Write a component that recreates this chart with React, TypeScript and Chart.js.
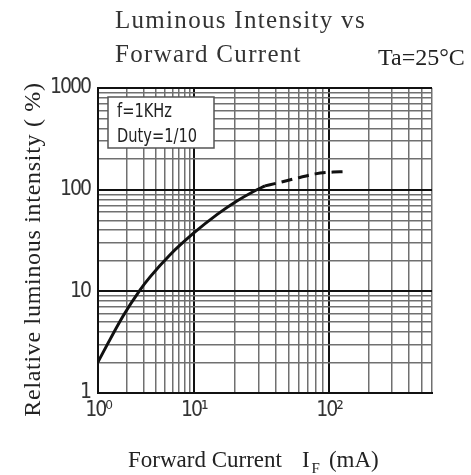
import React, { useEffect, useRef } from 'react';
import { Chart, registerables, LogarithmicScale } from 'chart.js';

// ---- data ----
const solidCurrent = [1, 1.82, 2.74, 3.48, 5.62, 10, 14.8, 20.8, 27.4, 33.6];
const solidIntensity = [2.02, 5.7, 10.3, 13.8, 22.8, 37.5, 56.8, 77.3, 95.5, 109];
const dashedCurrent = [33.6, 41, 58, 79, 107, 128];
const dashedIntensity = [109, 116, 130, 143, 149, 150];

const xMin = 1;
const xMax = 600;
const yMin = 1;
const yMax = 1000;
const xTickValues = [1, 10, 100];
const xTickLabels = ['10⁰', '10¹', '10²'];
const yTickValues = [1, 10, 100, 1000];
const yTickLabels = ['1', '10', '100', '1000'];
const gridDecades = [1, 10, 100];
const gridMultipliers = [1, 2, 3, 4, 5, 6, 7, 8, 9];

const titleLines = ['Luminous Intensity vs', 'Forward Current'];
const conditionText = 'Ta=25°C';
const noteLines = ['f=1KHz', 'Duty=1/10'];
const yTitle = 'Relative luminous intensity ( %)';
const xTitleMain = 'Forward Current';
const xTitleSymbol = 'I';
const xTitleSub = 'F';
const xTitleUnit = '(mA)';

// the source sheet's current axis is not evenly spaced per decade:
// decade boundaries and the share of the axis width each one reaches
const xDecadeBounds = [1, 10, 100, 600];
const xDecadeShare = [0, 0.287, 0.692, 1];

const SERIF = "'Liberation Serif', 'Times New Roman', serif";
const TICK_FONT = { family: "'DejaVu Sans Condensed', 'DejaVu Sans', sans-serif", size: 21 };

class SegmentedLogScale extends (LogarithmicScale as any) {
  static id = 'segmentedLog';
  static defaults = (LogarithmicScale as any).defaults;

  getPixelForValue(value: number) {
    if (value === undefined || value === null || isNaN(value)) return NaN;
    const lv = Math.log10(Math.max(value, xDecadeBounds[0]));
    let i = 0;
    while (i < xDecadeBounds.length - 2 && lv > Math.log10(xDecadeBounds[i + 1])) i++;
    const a = Math.log10(xDecadeBounds[i]);
    const b = Math.log10(xDecadeBounds[i + 1]);
    const f = xDecadeShare[i] + ((lv - a) / (b - a)) * (xDecadeShare[i + 1] - xDecadeShare[i]);
    return (this as any).getPixelForDecimal(f);
  }

  getValueForPixel(pixel: number) {
    const f = (this as any).getDecimalForPixel(pixel);
    let i = 0;
    while (i < xDecadeShare.length - 2 && f > xDecadeShare[i + 1]) i++;
    const a = Math.log10(xDecadeBounds[i]);
    const b = Math.log10(xDecadeBounds[i + 1]);
    const t = (f - xDecadeShare[i]) / (xDecadeShare[i + 1] - xDecadeShare[i]);
    return Math.pow(10, a + t * (b - a));
  }
}

Chart.register(...registerables, SegmentedLogScale as any);

const gridValuesFor = (max: number) => {
  const vals = gridDecades.flatMap((d) => gridMultipliers.map((m) => m * d)).filter((v) => v < max);
  vals.push(max);
  return vals;
};

const isDecade = (v: number) => Math.abs(Math.log10(v) - Math.round(Math.log10(v))) < 1e-9;

const labelFor = (values: number[], labels: string[]) => (value: any) => {
  const i = values.findIndex((v) => Math.abs(v - Number(value)) < 1e-9);
  return i >= 0 ? labels[i] : '';
};

const annotations = {
  id: 'annotations',
  beforeDraw(chart: any) {
    // tighter digits for the narrow tick lettering of the sheet
    (chart.ctx as any).letterSpacing = '-2px';
  },
  afterDraw(chart: any) {
    const ctx = chart.ctx as CanvasRenderingContext2D;
    const { left, top, bottom } = chart.chartArea;
    ctx.save();
    ctx.textAlign = 'left';
    ctx.textBaseline = 'alphabetic';

    // title
    ctx.fillStyle = '#333';
    ctx.font = `25px ${SERIF}`;
    (ctx as any).letterSpacing = '1.3px';
    ctx.fillText(titleLines[0], 115, 28);
    ctx.fillText(titleLines[1], 115, 62);
    (ctx as any).letterSpacing = '0px';

    // condition
    ctx.fillStyle = '#222';
    ctx.font = `24px ${SERIF}`;
    ctx.fillText(conditionText, 378, 65);

    // y axis title
    ctx.save();
    ctx.fillStyle = '#222';
    ctx.font = `24px ${SERIF}`;
    (ctx as any).letterSpacing = '0.7px';
    ctx.translate(40, (top + bottom) / 2 + 9);
    ctx.rotate(-Math.PI / 2);
    ctx.textAlign = 'center';
    ctx.fillText(yTitle, 0, 0);
    ctx.restore();
    (ctx as any).letterSpacing = '0px';

    // note box
    const bx = left + 10;
    const by = top + 9;
    ctx.fillStyle = '#fff';
    ctx.fillRect(bx, by, 106, 51);
    ctx.strokeStyle = '#555';
    ctx.lineWidth = 1.5;
    ctx.strokeRect(bx, by, 106, 51);
    ctx.fillStyle = '#222';
    ctx.font = `19px 'DejaVu Sans Condensed', 'DejaVu Sans', sans-serif`;
    const squeeze = 80 / ctx.measureText(noteLines[1]).width;
    ctx.save();
    ctx.translate(bx + 9, by + 20);
    ctx.scale(squeeze, 1);
    ctx.fillText(noteLines[0], 0, 0);
    ctx.fillText(noteLines[1], 0, 25);
    ctx.restore();

    // x axis title with subscript
    ctx.fillStyle = '#222';
    ctx.font = `23px ${SERIF}`;
    let x = 128;
    const base = 467;
    ctx.fillText(xTitleMain, x, base);
    x += ctx.measureText(xTitleMain).width + 20;
    ctx.fillText(xTitleSymbol, x, base);
    x += ctx.measureText(xTitleSymbol).width + 2;
    ctx.font = `15px ${SERIF}`;
    ctx.fillText(xTitleSub, x, base + 6);
    x += ctx.measureText(xTitleSub).width + 9;
    ctx.font = `23px ${SERIF}`;
    ctx.fillText(xTitleUnit, x, base);
    ctx.restore();
    (ctx as any).letterSpacing = '0px';
  },
};

export default function App() {
  const canvasRef = useRef<HTMLCanvasElement | null>(null);

  useEffect(() => {
    if (!canvasRef.current) return;
    const gridColor = (c: any) => (c.tick && isDecade(c.tick.value) ? '#111' : '#707070');
    const gridWidth = (c: any) => (c.tick && isDecade(c.tick.value) ? 2 : 1.5);

    const chart = new Chart(canvasRef.current, {
      type: 'line',
      data: {
        datasets: [
          {
            data: solidCurrent.map((c, i) => ({ x: c, y: solidIntensity[i] })),
            borderColor: '#111',
            borderWidth: 3,
            pointRadius: 0,
            cubicInterpolationMode: 'monotone',
            fill: false,
          },
          {
            data: dashedCurrent.map((c, i) => ({ x: c, y: dashedIntensity[i] })),
            borderColor: '#111',
            borderWidth: 3,
            borderDash: [11, 6],
            pointRadius: 0,
            cubicInterpolationMode: 'monotone',
            fill: false,
          },
        ],
      },
      options: {
        animation: false,
        responsive: false,
        devicePixelRatio: 1,
        layout: { padding: { top: 88, right: 39, left: 0, bottom: 0 } },
        plugins: { legend: { display: false }, tooltip: { enabled: false }, title: { display: false } },
        scales: {
          x: {
            type: 'segmentedLog',
            min: xMin,
            max: xMax,
            afterBuildTicks: (s: any) => {
              s.ticks = gridValuesFor(xMax).map((v) => ({ value: v }));
            },
            afterFit: (s: any) => {
              s.height = 82;
            },
            ticks: {
              autoSkip: false,
              maxRotation: 0,
              padding: 5,
              color: '#333',
              font: TICK_FONT,
              callback: labelFor(xTickValues, xTickLabels),
            },
            grid: { color: gridColor, lineWidth: gridWidth, drawTicks: false },
            border: { display: true, color: '#111', width: 2 },
          },
          y: {
            type: 'logarithmic',
            min: yMin,
            max: yMax,
            afterBuildTicks: (s: any) => {
              s.ticks = gridValuesFor(yMax).map((v) => ({ value: v }));
            },
            afterFit: (s: any) => {
              s.width = 98;
            },
            ticks: {
              autoSkip: false,
              padding: 8,
              color: '#333',
              font: TICK_FONT,
              callback: labelFor(yTickValues, yTickLabels),
            },
            grid: { color: gridColor, lineWidth: gridWidth, drawTicks: false },
            border: { display: true, color: '#111', width: 2 },
          },
        },
      },
      plugins: [annotations],
    } as any);
    return () => chart.destroy();
  }, []);

  return (
    <div style={{ position: 'absolute', left: 0, top: 0, width: 471, height: 475, background: '#fff' }}>
      <canvas ref={canvasRef} width={471} height={475} style={{ width: 471, height: 475, display: 'block' }} />
    </div>
  );
}
